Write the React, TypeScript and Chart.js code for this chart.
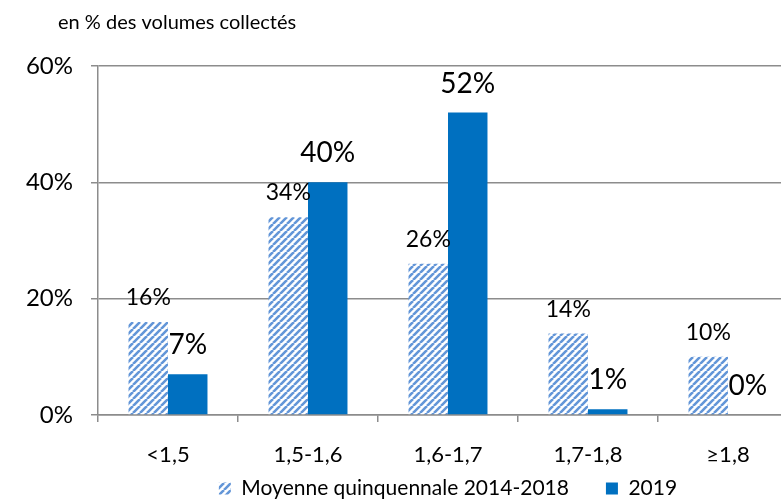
import React, { useEffect, useRef } from 'react';
import { Chart, registerables } from 'chart.js';

Chart.register(...registerables);

const categories = ['<1,5', '1,5-1,6', '1,6-1,7', '1,7-1,8', '≥1,8'];
const moyenneValues = [16, 34, 26, 14, 10];
const values2019 = [7, 40, 52, 1, 0];
const seriesNames = ['Moyenne quinquennale 2014-2018', '2019'];
const yTicks = [0, 20, 40, 60];
const titleText = 'en % des volumes collectés';

const FONT = "Lato, 'Open Sans', sans-serif";
const GRID = '#8c8c8c';
const SOLID = '#0070C0';
const HATCH_BLUE = '#6396D8';

function makeHatch(ctxRef: CanvasRenderingContext2D) {
  const s = 7;
  const c = document.createElement('canvas');
  c.width = s;
  c.height = s;
  const g = c.getContext('2d')!;
  g.fillStyle = '#ffffff';
  g.fillRect(0, 0, s, s);
  g.strokeStyle = HATCH_BLUE;
  g.lineWidth = 2.6;
  g.beginPath();
  for (const k of [-s, 0, s]) {
    g.moveTo(k, s);
    g.lineTo(k + s, 0);
  }
  g.stroke();
  return ctxRef.createPattern(c, 'repeat')!;
}

export default function App() {
  const ref = useRef<HTMLCanvasElement>(null);

  useEffect(() => {
    const canvas = ref.current!;
    const hatch = makeHatch(canvas.getContext('2d')!);

    const labelPlugin = {
      id: 'valueLabels',
      afterDatasetsDraw(chart: any) {
        const ctx = chart.ctx;
        chart.data.datasets.forEach((ds: any, di: number) => {
          const meta = chart.getDatasetMeta(di);
          meta.data.forEach((el: any, i: number) => {
            const v = ds.data[i];
            ctx.save();
            ctx.font = di === 0 ? `23px ${FONT}` : `28px ${FONT}`;
            ctx.fillStyle = '#000';
            ctx.textAlign = 'center';
            ctx.textBaseline = 'alphabetic';
            ctx.fillText(v + '%', el.x, el.y - (di === 0 ? 17 : 20));
            ctx.restore();
          });
        });
      },
    };

    const textPlugin = {
      id: 'texts',
      afterDraw(chart: any) {
        const ctx = chart.ctx;
        const xs = chart.scales.x;
        ctx.save();
        ctx.fillStyle = '#000';
        ctx.font = `20px ${FONT}`;
        ctx.textAlign = 'left';
        ctx.textBaseline = 'middle';
        ctx.fillText(titleText, 58, 23);
        ctx.font = `22px ${FONT}`;
        ctx.textAlign = 'center';
        categories.forEach((c, i) => {
          ctx.fillText(c, xs.getPixelForValue(i), chart.chartArea.bottom + 40);
        });
        ctx.restore();
      },
    };

    const chart = new Chart(canvas, {
      type: 'bar',
      data: {
        labels: categories,
        datasets: [
          {
            label: seriesNames[0],
            data: moyenneValues,
            backgroundColor: hatch as any,
            borderWidth: 0,
            categoryPercentage: 0.564,
            barPercentage: 1,
          },
          {
            label: seriesNames[1],
            data: values2019,
            backgroundColor: SOLID,
            borderWidth: 0,
            categoryPercentage: 0.564,
            barPercentage: 1,
          },
        ],
      },
      options: {
        responsive: true,
        maintainAspectRatio: false,
        animation: false,
        layout: { padding: { left: 0, right: 14, top: 66, bottom: 0 } },
        plugins: {
          title: { display: false },
          legend: {
            position: 'bottom',
            fullSize: false,
            labels: {
              boxWidth: 12,
              boxHeight: 12,
              padding: 37,
              color: '#000',
              font: { family: FONT, size: 21 },
            },
          },
          tooltip: { enabled: false },
        },
        scales: {
          x: {
            grid: {
              drawOnChartArea: false,
              drawTicks: true,
              tickLength: 7,
              color: GRID,
              lineWidth: 1.5,
            },
            border: { display: true, color: GRID, width: 1.5 },
            ticks: { display: false },
            afterFit: (s: any) => {
              s.height = 26;
            },
          },
          y: {
            min: 0,
            max: 60,
            afterBuildTicks: (s: any) => {
              s.ticks = yTicks.map((v) => ({ value: v }));
            },
            grid: { color: GRID, lineWidth: 1.5, tickLength: 7 },
            border: { display: true, color: GRID, width: 1.5 },
            ticks: {
              color: '#000',
              font: { family: FONT, size: 24 },
              padding: 18,
              callback: (v: any) => v + '%',
            },
            afterFit: (s: any) => {
              s.width = 98;
            },
          },
        },
      },
      plugins: [labelPlugin, textPlugin],
    });
    return () => chart.destroy();
  }, []);

  return (
    <div
      style={{
        position: 'fixed',
        left: 0,
        top: 0,
        width: 781,
        height: 501,
        overflow: 'hidden',
        background: '#fff',
      }}
    >
      <div style={{ position: 'relative', width: 812, height: 509 }}>
        <canvas ref={ref} />
      </div>
    </div>
  );
}
